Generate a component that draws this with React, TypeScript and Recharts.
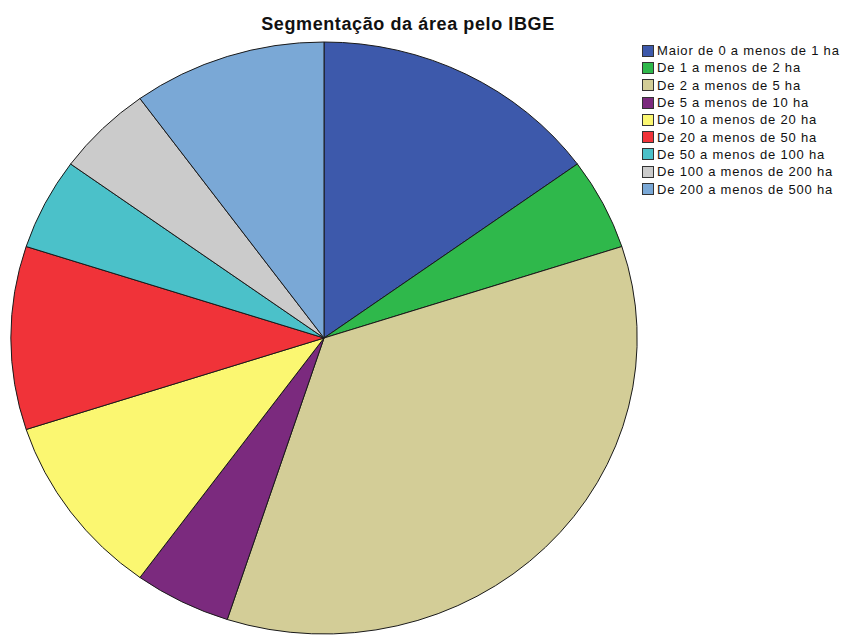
import { Legend, Pie, PieChart, Cell } from 'recharts'

const categories = [
  'Maior de 0 a menos de 1 ha',
  'De 1 a menos de 2 ha',
  'De 2 a menos de 5 ha',
  'De 5 a menos de 10 ha',
  'De 10 a menos de 20 ha',
  'De 20 a menos de 50 ha',
  'De 50 a menos de 100 ha',
  'De 100 a menos de 200 ha',
  'De 200 a menos de 500 ha',
]
const counts = [3, 1, 7, 1, 2, 2, 1, 1, 2]
const colors = ['#3d59ab', '#2fb84b', '#d3cd97', '#7b2a7e', '#fbf771', '#f03339', '#4bc1c9', '#cbcbcb', '#7aa8d6']

const chartData = categories.map((name, i) => ({ name, value: counts[i] }))

const RAD = Math.PI / 180
const X_STRETCH = 1.058

// sector drawn as a slightly wide ellipse, like the original
function EllipseSector(props: any) {
  const { cx, cy, outerRadius, startAngle, endAngle, fill } = props
  const rx = outerRadius * X_STRETCH
  const ry = outerRadius
  const pt = (a: number) => [cx + rx * Math.cos(-a * RAD), cy + ry * Math.sin(-a * RAD)]
  const [x1, y1] = pt(startAngle)
  const [x2, y2] = pt(endAngle)
  const large = Math.abs(startAngle - endAngle) > 180 ? 1 : 0
  const sweep = startAngle > endAngle ? 1 : 0
  const d = `M${cx},${cy} L${x1},${y1} A${rx},${ry} 0 ${large} ${sweep} ${x2},${y2} Z`
  return <path d={d} fill={fill} stroke='#1a1a1a' strokeWidth={1} strokeLinejoin='round' />
}

// legend kept in data order (recharts sorts it by default)
function LegendBox() {
  return (
    <div style={{ fontFamily: '"Liberation Sans", Arial, sans-serif', fontSize: 13, letterSpacing: 0.8, color: '#111' }}>
      {categories.map((name, i) => (
        <div key={name} style={{ display: 'flex', alignItems: 'center', height: 17.3, whiteSpace: 'nowrap' }}>
          <span
            style={{
              display: 'inline-block',
              width: 10,
              height: 10,
              background: colors[i],
              border: '1px solid #333',
              marginRight: 3,
            }}
          />
          <span>{name}</span>
        </div>
      ))}
    </div>
  )
}

export default function App() {
  return (
    <div style={{ position: 'absolute', left: 0, top: 0, width: 842, height: 637, background: '#fff' }}>
      <PieChart width={842} height={637} margin={{ top: 0, right: 0, bottom: 0, left: 0 }}>
        <text
          x={408}
          y={30}
          textAnchor='middle'
          style={{ fontFamily: '"Liberation Sans", Arial, sans-serif', fontSize: 18, fontWeight: 700, letterSpacing: 0.6 }}
          fill='#111'
        >
          Segmentação da área pelo IBGE
        </text>
        <Pie
          data={chartData}
          dataKey='value'
          nameKey='name'
          cx={324}
          cy={338}
          outerRadius={296}
          startAngle={90}
          endAngle={-270}
          isAnimationActive={false}
          shape={EllipseSector}
          activeShape={EllipseSector}
        >
          {chartData.map((_, i) => (
            <Cell key={i} fill={colors[i]} />
          ))}
        </Pie>
        <Legend
          layout='vertical'
          verticalAlign='top'
          align='right'
          content={LegendBox}
          wrapperStyle={{ left: 642, top: 42, width: 200 }}
        />
      </PieChart>
    </div>
  )
}
